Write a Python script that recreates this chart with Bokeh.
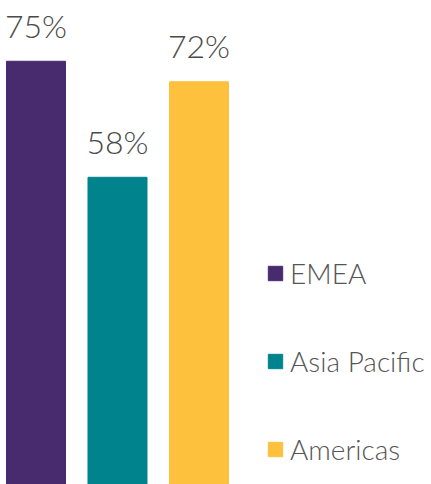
from bokeh.plotting import figure
from bokeh.models import Range1d, ColumnDataSource, Legend, LegendItem
from bokeh.embed import file_html
from bokeh.resources import INLINE
from bokeh.core.properties import value

regions = ["EMEA", "Asia Pacific", "Americas"]
shares = [75, 58, 72]
labels = ["75%", "58%", "72%"]
colors = ["#482a6f", "#00838c", "#fdc13e"]
positions = [0, 1, 2]

p = figure(width=431, height=484, output_backend="svg", toolbar_location=None,
           x_range=Range1d(-0.4356, 4.853), y_range=Range1d(13.0, 83.9),
           min_border=0, min_border_left=0, min_border_right=0,
           min_border_top=0, min_border_bottom=0)
p.axis.visible = False
p.grid.visible = False
p.outline_line_color = None
p.background_fill_color = "white"
p.border_fill_color = "white"

items = []
for i in range(3):
    src = ColumnDataSource(dict(x=[positions[i]], top=[shares[i]], label=[labels[i]]))
    r = p.vbar(x="x", top="top", bottom=0, width=0.724, color=colors[i], source=src)
    p.text(x="x", y="top", text="label", source=src, text_align="center",
           text_baseline="alphabetic", y_offset=-36, text_font=value("Lato Light"),
           text_font_size="32px", text_color="#4a4a4a")
    items.append(LegendItem(label=regions[i], renderers=[r]))

legend = Legend(items=items, location=(266, 18), orientation="vertical",
                glyph_width=18, glyph_height=18, label_standoff=6,
                label_text_font="Lato Light", label_text_font_size="28px",
                label_text_color="#555555", label_height=34, spacing=54,
                padding=0, margin=0, border_line_color=None,
                background_fill_alpha=0)
p.add_layout(legend)

open("out.html", "w").write(file_html(p, INLINE))
